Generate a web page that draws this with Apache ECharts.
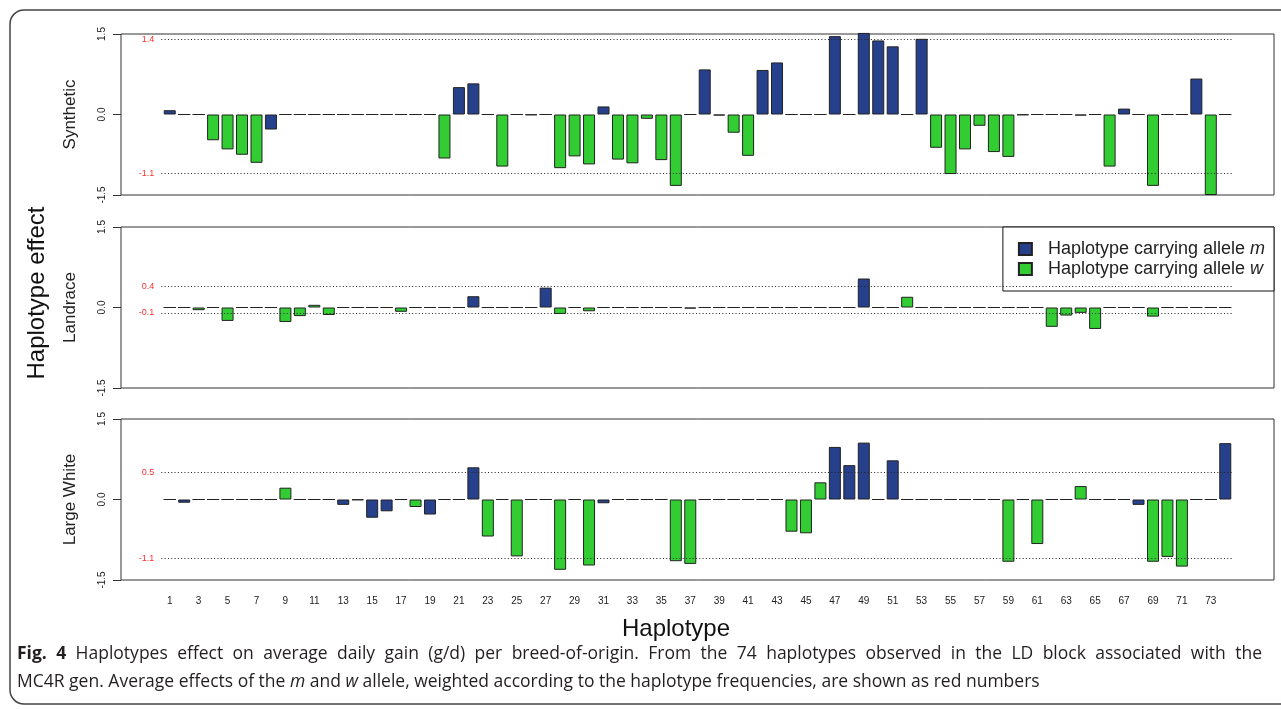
<!DOCTYPE html>
<html>
<head>
<meta charset="utf-8">
<script src="https://cdn.jsdelivr.net/npm/echarts@6/dist/echarts.min.js"></script>
<style>
  html, body { margin: 0; padding: 0; background: #fff; }
  #chart { width: 1281px; height: 710px; }
</style>
</head>
<body>
<div id="chart"></div>
<script>
// Haplotypes 1..74 observed in the LD block
const haplotypes = Array.from({ length: 74 }, (_, i) => i + 1);
const tickHaplotypes = haplotypes.filter(h => h % 2 === 1);

// Haplotypes carrying allele m (all others carry w)
const carriesM = [1, 2, 8, 13, 15, 16, 19, 21, 22, 27, 31, 38, 42, 43, 47, 48, 49, 50, 51, 53, 67, 68, 72, 74];

// Haplotype effects (g/d), haplotype 1..74
const synthetic = [
  0.08, 0, 0, -0.48, -0.65, -0.75, -0.9, -0.28, 0, 0,
  0, 0, 0, 0, 0, 0, 0, 0, 0, -0.82,
  0.51, 0.58, 0, -0.97, 0, -0.01, 0, -1.0, -0.78, -0.93,
  0.15, -0.84, -0.91, -0.08, -0.85, -1.33, 0, 0.84, -0.02, -0.34,
  -0.77, 0.83, 0.97, 0, 0, 0, 1.46, 0, 1.52, 1.38,
  1.27, 0, 1.41, -0.62, -1.11, -0.65, -0.21, -0.7, -0.79, -0.01,
  0, 0, 0, -0.02, 0, -0.97, 0.11, 0, -1.33, 0,
  0, 0.67, -1.5, 0
];
const landrace = [
  0, 0, -0.05, 0, -0.25, 0, 0, 0, -0.27, -0.16,
  0.05, -0.14, 0, 0, 0, 0, -0.08, 0, 0, 0,
  0, 0.21, 0, 0, 0, 0, 0.37, -0.12, 0, -0.07,
  0, 0, 0, 0, 0, 0, -0.02, 0, 0, 0,
  0, 0, 0, 0, 0, 0, 0, 0, 0.54, 0,
  0, 0.2, 0, 0, 0, 0, 0, 0, 0, 0,
  0, -0.36, -0.15, -0.1, -0.4, 0, 0, 0, -0.17, 0,
  0, 0, 0, 0
];
const largeWhite = [
  0, -0.06, 0, 0, 0, 0, 0, 0, 0.22, 0,
  0, 0, -0.1, -0.01, -0.34, -0.22, 0, -0.14, -0.28, 0,
  0, 0.6, -0.69, 0, -1.06, 0, 0, -1.31, 0, -1.23,
  -0.07, 0, 0, 0, 0, -1.15, -1.2, 0, 0, 0,
  0, 0, 0, -0.6, -0.63, 0.32, 0.98, 0.64, 1.06, 0,
  0.73, 0, 0, 0, 0, 0, 0, 0, -1.16, 0,
  -0.83, 0, 0, 0.25, 0, 0, 0, -0.1, -1.16, -1.07,
  -1.25, 0, 0, 1.05
];

// Average effects of the m and w allele, weighted by haplotype frequency
const syntheticMeans = [1.4, -1.1];
const landraceMeans = [0.4, -0.1];
const largeWhiteMeans = [0.5, -1.1];

const breeds = ['Synthetic', 'Landrace', 'Large White'];
const yTicks = [-1.5, 0, 1.5];
const alleleNames = ['Haplotype carrying allele m', 'Haplotype carrying allele w'];

const captionLine1 = 'Haplotypes effect on average daily gain (g/d) per breed-of-origin. From the 74 haplotypes observed in the LD block associated with the';
const captionLine2 = 'MC4R gen. Average effects of the {i|m} and {i|w} allele, weighted according to the haplotype frequencies, are shown as red numbers';

const panels = [
  { values: synthetic, means: syntheticMeans },
  { values: landrace, means: landraceMeans },
  { values: largeWhite, means: largeWhiteMeans }
];

// layout
const FONT = 'Liberation Sans, Arial, sans-serif';
const CAPTION_FONT = '"Open Sans", sans-serif';
const CAPTION_SIZE = 17.5;
const TEXT = '#222';
const COLOR_M = '#27408B';
const COLOR_W = '#32CD32';
const gridTops = [34, 227, 419];
const gridHeight = 161;
const xMin = -2.37, xMax = 77.37;      // plot extent around the bars
const meanLineFrom = 0.42, meanLineTo = 74.58;

const chart = echarts.init(document.getElementById('chart'), null, { renderer: 'canvas' });

const grids = gridTops.map(top => ({
  left: 121, right: 7, top: top, height: gridHeight,
  show: true, borderColor: '#333', borderWidth: 1, backgroundColor: 'transparent'
}));

const xAxes = panels.map((p, i) => ({
  type: 'value', gridIndex: i, min: xMin, max: xMax,
  axisLine: { show: false, onZero: false }, axisTick: { show: false }, splitLine: { show: false },
  axisLabel: i === 2 ? {
    show: true, customValues: tickHaplotypes, fontSize: 10, color: TEXT,
    fontFamily: FONT, margin: 16
  } : { show: false }
}));

const yAxes = panels.map((p, i) => ({
  type: 'value', gridIndex: i, min: yTicks[0], max: yTicks[2], interval: 1.5,
  name: breeds[i], nameLocation: 'middle', nameRotate: 90, nameGap: 42,
  nameTextStyle: { fontSize: 17, fontFamily: FONT, color: TEXT },
  axisLine: { show: false, onZero: false },
  axisTick: { show: true, length: 8, lineStyle: { color: '#333', width: 1 } },
  splitLine: { show: false },
  axisLabel: {
    rotate: 90, fontSize: 10, color: TEXT, fontFamily: FONT, margin: 14,
    formatter: v => v.toFixed(1)
  }
}));

const series = [];
panels.forEach((p, i) => {
  [true, false].forEach(isM => {
    const s = {
      name: isM ? alleleNames[0] : alleleNames[1],
      type: 'bar', xAxisIndex: i, yAxisIndex: i,
      barWidth: 12, barGap: '-100%', clip: false, animation: false,
      itemStyle: { color: isM ? COLOR_M : COLOR_W, borderColor: '#222', borderWidth: 1 },
      emphasis: { disabled: true },
      data: haplotypes
        .filter(h => carriesM.includes(h) === isM)
        .map(h => [h, p.values[h - 1]])
    };
    if (!isM) {
      s.markLine = {
        silent: true, symbol: 'none', animation: false,
        lineStyle: { type: [1, 2.3], color: '#222', width: 1 },
        label: {
          position: 'start', distance: 7, color: '#ff3030', fontSize: 9,
          fontFamily: FONT, formatter: d => String(d.value)
        },
        emphasis: { disabled: true },
        data: p.means.map(m => [
          { coord: [meanLineFrom, m], value: m },
          { coord: [meanLineTo, m] }
        ])
      };
    }
    series.push(s);
  });
});

// First caption line is justified across the caption width
function justifiedLine(words, left, right, y) {
  const ctx = document.createElement('canvas').getContext('2d');
  const fontOf = w => (w.bold ? 'bold ' : '') + CAPTION_SIZE + 'px ' + CAPTION_FONT;
  const widths = words.map(w => { ctx.font = fontOf(w); return ctx.measureText(w.text).width; });
  const total = widths.reduce((a, b) => a + b, 0);
  const gap = (right - left - total) / (words.length - 1);
  let x = left;
  return words.map((w, k) => {
    const el = {
      type: 'text', x: x, y: y, silent: true,
      style: {
        text: w.text, fontSize: CAPTION_SIZE, fontFamily: CAPTION_FONT,
        fontWeight: w.bold ? 'bold' : 'normal', fill: '#231f20', verticalAlign: 'middle'
      }
    };
    x += widths[k] + gap;
    return el;
  });
}

const line1Words = [{ text: 'Fig.', bold: true }, { text: '4', bold: true }]
  .concat(captionLine1.split(' ').map(t => ({ text: t, bold: false })));

const option = {
  backgroundColor: '#fff',
  animation: false,
  grid: grids,
  xAxis: xAxes,
  yAxis: yAxes,
  legend: {
    data: alleleNames, orient: 'vertical', right: 7, top: 227,
    padding: [12, 9, 12, 15], itemGap: 0, itemWidth: 13, itemHeight: 12,
    icon: 'rect',
    backgroundColor: '#fff', borderColor: '#111', borderWidth: 1, borderRadius: 0,
    selectedMode: false,
    formatter: name => name.replace(/ (m|w)$/, ' {i|$1}'),
    textStyle: {
      fontSize: 18, fontFamily: FONT, color: TEXT, lineHeight: 20, padding: [0, 0, 0, 11],
      rich: { i: { fontSize: 18, fontFamily: FONT, color: TEXT, fontStyle: 'italic', lineHeight: 20 } }
    }
  },
  graphic: [
    {
      type: 'rect', silent: true, z: 0,
      shape: { x: 10, y: 10, width: 1290, height: 694, r: 14 },
      style: { fill: 'none', stroke: '#444', lineWidth: 1.5 }
    },
    {
      type: 'text', x: 37, y: 293, rotation: Math.PI / 2,
      style: { text: 'Haplotype effect', font: '24px ' + FONT, fill: '#111', align: 'center', verticalAlign: 'middle' }
    },
    {
      type: 'text', x: 676, y: 629,
      style: { text: 'Haplotype', font: '24px ' + FONT, fill: '#111', align: 'center', verticalAlign: 'middle' }
    },
    {
      type: 'text', x: 17, y: 682,
      style: {
        text: captionLine2,
        fontSize: CAPTION_SIZE, fontFamily: CAPTION_FONT, fill: '#231f20', verticalAlign: 'middle',
        rich: { i: { fontStyle: 'italic', fontSize: CAPTION_SIZE, fontFamily: CAPTION_FONT, fill: '#231f20' } }
      }
    }
  ].concat(justifiedLine(line1Words, 17, 1262, 654)),
  series: series
};

chart.setOption(option);
</script>
</body>
</html>
